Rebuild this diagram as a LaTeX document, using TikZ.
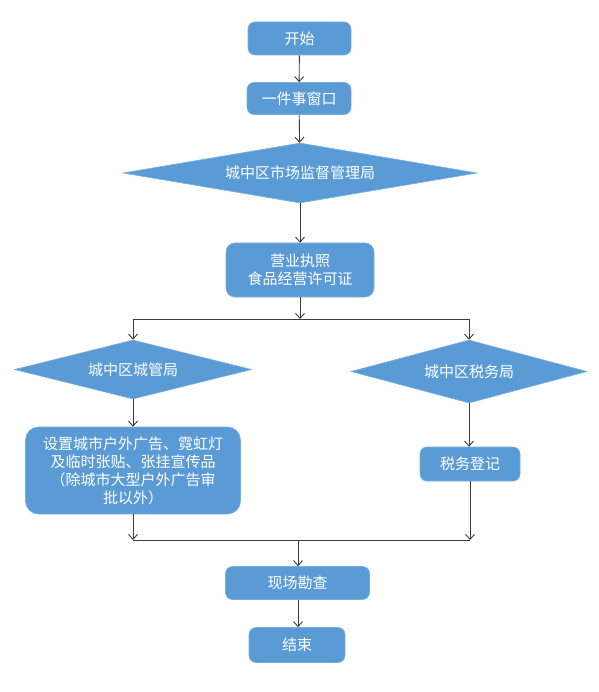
\documentclass[tikz,border=0pt]{standalone}
\usepackage{fontspec}
\setmainfont{Noto Sans CJK SC}
\usetikzlibrary{shapes.geometric,arrows.meta}
\definecolor{boxblue}{RGB}{91,155,213}
\definecolor{boxedge}{RGB}{120,175,225}
\definecolor{linegray}{RGB}{60,60,60}
\begin{document}
\begin{tikzpicture}[x=1pt,y=-1pt,
  every node/.style={font=\fontsize{15}{18}\selectfont, text=white, inner sep=0pt, align=center},
  stepbox/.style={rectangle, rounded corners=7pt, fill=boxblue, draw=boxedge, line width=0.6pt},
  decision/.style={diamond, fill=boxblue, draw=boxedge, line width=0.6pt},
  conn/.style={draw=linegray, line width=0.9pt},
  arr/.style={conn, -{Straight Barb[length=5pt,width=9pt]}}]
\useasboundingbox (0,0) rectangle (598,692);
\fill[white] (0,0) rectangle (598,692);

\node[stepbox, minimum width=103pt, minimum height=33pt] (start) at (299.5,38.5) {开始};
\node[stepbox, minimum width=104pt, minimum height=32pt] (window) at (299,98.5) {一件事窗口};
\node[decision, shape aspect=5.9, minimum width=354pt, minimum height=60pt] (market) at (300,173) {城中区市场监督管理局};
\node[stepbox, rounded corners=9pt, minimum width=148pt, minimum height=54pt] (license) at (300,270) {营业执照\\食品经营许可证};
\node[decision, shape aspect=4, minimum width=237pt, minimum height=59pt] (urban) at (133,369.5) {城中区城管局};
\node[decision, shape aspect=3.75, minimum width=236pt, minimum height=63pt] (tax) at (469,371.5) {城中区税务局};
\node[stepbox, rounded corners=13pt, minimum width=215pt, minimum height=87pt] (advert) at (133,470.5) {设置城市户外广告、霓虹灯\\及临时张贴、张挂宣传品\\（除城市大型户外广告审\\批以外）};
\node[stepbox, minimum width=100pt, minimum height=34pt] (taxreg) at (470,464) {税务登记};
\node[stepbox, minimum width=144pt, minimum height=33pt] (survey) at (297.5,583) {现场勘查};
\node[stepbox, minimum width=96pt, minimum height=35pt] (finish) at (297,645) {结束};

\coordinate (split) at (300,319);
\coordinate (splitL) at (133,319);
\coordinate (splitR) at (469,319);
\coordinate (mergeL) at (133,540);
\coordinate (mergeR) at (470,540);
\coordinate (merge) at (298,540);

\draw[arr] (start) -- (window);
\draw[arr] (window) -- (market);
\draw[arr] (market) -- (license);
\draw[arr] (license) -- (split);
\draw[conn] (splitL) -- (splitR);
\draw[arr] (splitL) -- (urban.north);
\draw[arr] (splitR) -- (tax.north);
\draw[arr] (urban) -- (advert);
\draw[arr] (tax.south) -- (taxreg.north -| tax.south);
\draw[arr] (advert) -- (mergeL);
\draw[arr] (taxreg) -- (mergeR);
\draw[conn] (mergeL) -- (mergeR);
\draw[arr] (merge) -- (merge |- survey.north);
\draw[arr] (survey.south -| merge) -- (finish.north -| merge);
\end{tikzpicture}
\end{document}
